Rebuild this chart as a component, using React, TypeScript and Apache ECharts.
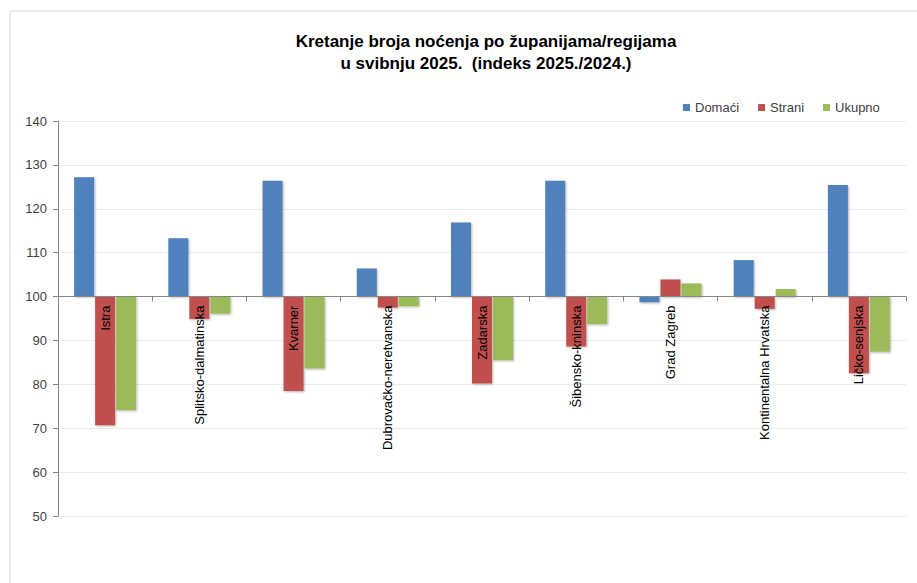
import React, { useEffect, useRef } from "react";
import * as echarts from "echarts";

const categories = [
  "Istra",
  "Splitsko-dalmatinska",
  "Kvarner",
  "Dubrovačko-neretvanska",
  "Zadarska",
  "Šibensko-kninska",
  "Grad Zagreb",
  "Kontinentalna Hrvatska",
  "Ličko-senjska",
];
const domaci = [127.2, 113.3, 126.4, 106.4, 116.9, 126.4, 98.7, 108.3, 125.4];
const strani = [70.7, 94.9, 78.5, 97.5, 80.2, 88.6, 103.9, 97.2, 82.5];
const ukupno = [74.1, 96.1, 83.6, 97.8, 85.5, 93.7, 103.0, 101.7, 87.4];
const seriesNames = ["Domaći", "Strani", "Ukupno"];
const colors = ["#4F81BD", "#C0504D", "#9BBB59"];
const titleLines = [
  "Kretanje broja noćenja po županijama/regijama",
  "u svibnju 2025.  (indeks 2025./2024.)",
];
const BASE = 100;
const yMin = 50;
const yMax = 140;
const yStep = 10;

const FONT = "Liberation Sans";
const W = 917;
const H = 583;
const GRID = { left: 58, right: 11, top: 121, bottom: 67 };

export default function App() {
  const ref = useRef<HTMLDivElement>(null);
  useEffect(() => {
    document.body.style.margin = "0";
    const chart = echarts.init(ref.current!, undefined, { renderer: "svg" });
    const seriesData = [domaci, strani, ukupno];
    const gridH = H - GRID.top - GRID.bottom;
    const zeroOffset = -(gridH * (BASE - yMin)) / (yMax - yMin);
    chart.setOption({
      animation: false,
      backgroundColor: "#ffffff",
      textStyle: { fontFamily: FONT },
      graphic: [
        {
          type: "rect",
          shape: { x: 10, y: 11, width: 1000, height: 700 },
          style: { fill: "none", stroke: "#d9d9d9", lineWidth: 1 },
          silent: true,
          z: -1,
        },
        {
          type: "text",
          x: 486,
          y: 41,
          style: {
            text: titleLines[0],
            align: "center",
            verticalAlign: "middle",
            font: `bold 17px "${FONT}"`,
            fill: "#000",
          },
        },
        {
          type: "text",
          x: 486,
          y: 63,
          style: {
            text: titleLines[1],
            align: "center",
            verticalAlign: "middle",
            font: `bold 17px "${FONT}"`,
            fill: "#000",
          },
        },
      ],
      legend: {
        data: seriesNames,
        left: 678,
        top: 96,
        itemWidth: 7,
        itemHeight: 7,
        itemGap: 19,
        icon: "rect",
        textStyle: { fontSize: 13, color: "#404040", fontFamily: FONT },
      },
      grid: { ...GRID, containLabel: false, outerBoundsMode: "none" },
      xAxis: {
        type: "category",
        data: categories,
        z: 10,
        offset: zeroOffset,
        axisLine: { onZero: false, lineStyle: { color: "#868686", width: 1 } },
        axisTick: { show: true, alignWithLabel: false, length: 5, lineStyle: { color: "#868686" } },
        axisLabel: {
          rotate: 90,
          interval: 0,
          margin: 9,
          fontSize: 13,
          color: "#000",
          fontFamily: FONT,
        },
        splitLine: { show: false },
      },
      yAxis: {
        type: "value",
        min: yMin - BASE,
        max: yMax - BASE,
        interval: yStep,
        axisLine: { show: true, lineStyle: { color: "#868686", width: 1 } },
        axisTick: { show: true, length: 5, lineStyle: { color: "#868686" } },
        axisLabel: {
          fontSize: 13,
          color: "#404040",
          margin: 11,
          fontFamily: FONT,
          formatter: (v: number) => String(Math.round(v + BASE)),
        },
        splitLine: { show: true, lineStyle: { color: "#ececec", width: 1 } },
      },
      series: seriesNames.map((name, i) => ({
        name,
        type: "bar",
        barWidth: 20,
        barGap: "5%",
        data: seriesData[i].map((v) => +(v - BASE).toFixed(2)),
        itemStyle: {
          color: colors[i],
          shadowColor: "rgba(0,0,0,0.3)",
          shadowBlur: 2,
          shadowOffsetX: 1,
          shadowOffsetY: 1,
        },
      })),
    });
    return () => chart.dispose();
  }, []);
  return <div ref={ref} style={{ width: W, height: H }} />;
}
